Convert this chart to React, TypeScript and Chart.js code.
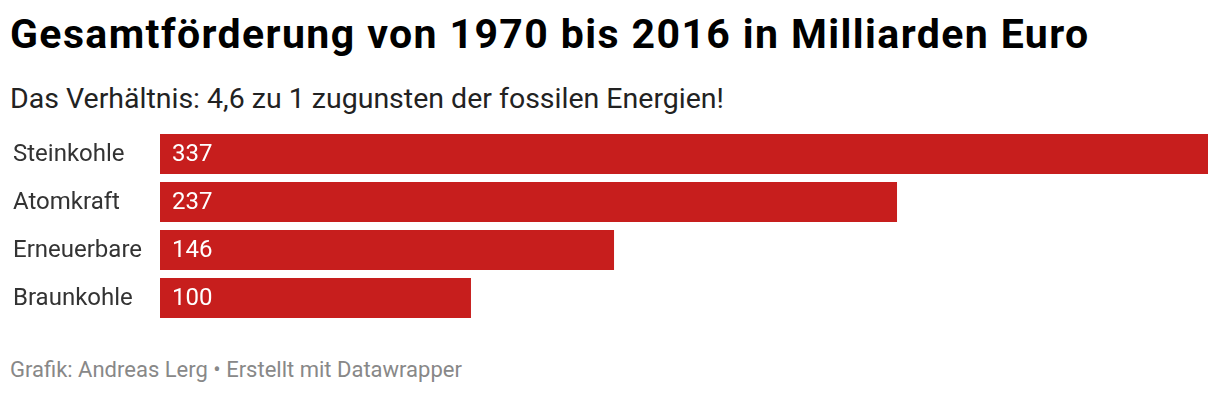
import React, { useEffect, useRef } from "react";
import { Chart, registerables } from "chart.js";

Chart.register(...registerables);

const categories = ["Steinkohle", "Atomkraft", "Erneuerbare", "Braunkohle"];
const values = [337, 237, 146, 100];
const titleText = "Gesamtförderung von 1970 bis 2016 in Milliarden Euro";
const subtitleText = "Das Verhältnis: 4,6 zu 1 zugunsten der fossilen Energien!";
const footerText = "Grafik: Andreas Lerg • Erstellt mit Datawrapper";

const BAR_COLOR = "#c71e1d";

const valueLabels = {
  id: "valueLabels",
  afterDatasetsDraw(chart: any) {
    const ctx = chart.ctx;
    const meta = chart.getDatasetMeta(0);
    ctx.save();
    ctx.font = "24px Roboto";
    ctx.fillStyle = "#ffffff";
    ctx.textAlign = "left";
    ctx.textBaseline = "middle";
    meta.data.forEach((bar: any, i: number) => {
      ctx.fillText(String(values[i]), bar.base + 12, bar.y + 1);
    });
    ctx.restore();
  },
};

export default function App() {
  const canvasRef = useRef<HTMLCanvasElement | null>(null);

  useEffect(() => {
    document.body.style.margin = "0";
    const chart = new Chart(canvasRef.current as HTMLCanvasElement, {
      type: "bar",
      data: {
        labels: categories,
        datasets: [
          {
            data: values,
            backgroundColor: BAR_COLOR,
            barPercentage: 40 / 48,
            categoryPercentage: 1,
          },
        ],
      },
      options: {
        indexAxis: "y",
        animation: false,
        responsive: false,
        maintainAspectRatio: false,
        layout: { padding: { left: 13, right: 12, top: 0, bottom: 0 } },
        plugins: {
          legend: { display: false },
          tooltip: { enabled: false },
        },
        scales: {
          x: {
            display: false,
            min: 0,
            max: 337,
            afterFit: (scale: any) => {
              scale.paddingLeft = 0;
              scale.paddingRight = 0;
            },
          },
          y: {
            grid: { display: false, drawTicks: false },
            border: { display: false },
            afterFit: (scale: any) => {
              scale.width = 147;
              scale.paddingTop = 0;
              scale.paddingBottom = 0;
            },
            ticks: {
              crossAlign: "far",
              padding: 0,
              labelOffset: 1,
              color: "#333333",
              font: { family: "Roboto", size: 24 },
            },
          },
        },
      },
      plugins: [valueLabels],
    });
    return () => chart.destroy();
  }, []);

  return (
    <div
      style={{
        position: "relative",
        width: 1220,
        height: 394,
        background: "#ffffff",
        fontFamily: "Roboto, sans-serif",
        overflow: "hidden",
      }}
    >
      <div
        style={{
          position: "absolute",
          left: 10,
          top: 14,
          fontSize: 41,
          lineHeight: "41px",
          fontWeight: 700,
          letterSpacing: "1.4px",
          color: "#000000",
          whiteSpace: "nowrap",
        }}
      >
        {titleText}
      </div>
      <div
        style={{
          position: "absolute",
          left: 10,
          top: 85,
          fontSize: 28.5,
          lineHeight: "28.5px",
          color: "#222222",
          whiteSpace: "nowrap",
        }}
      >
        {subtitleText}
      </div>
      <canvas
        ref={canvasRef}
        width={1220}
        height={192}
        style={{ position: "absolute", left: 0, top: 130, width: 1220, height: 192 }}
      />
      <div
        style={{
          position: "absolute",
          left: 10,
          top: 359,
          fontSize: 22,
          lineHeight: "22px",
          color: "#888888",
          whiteSpace: "nowrap",
        }}
      >
        {footerText}
      </div>
    </div>
  );
}
